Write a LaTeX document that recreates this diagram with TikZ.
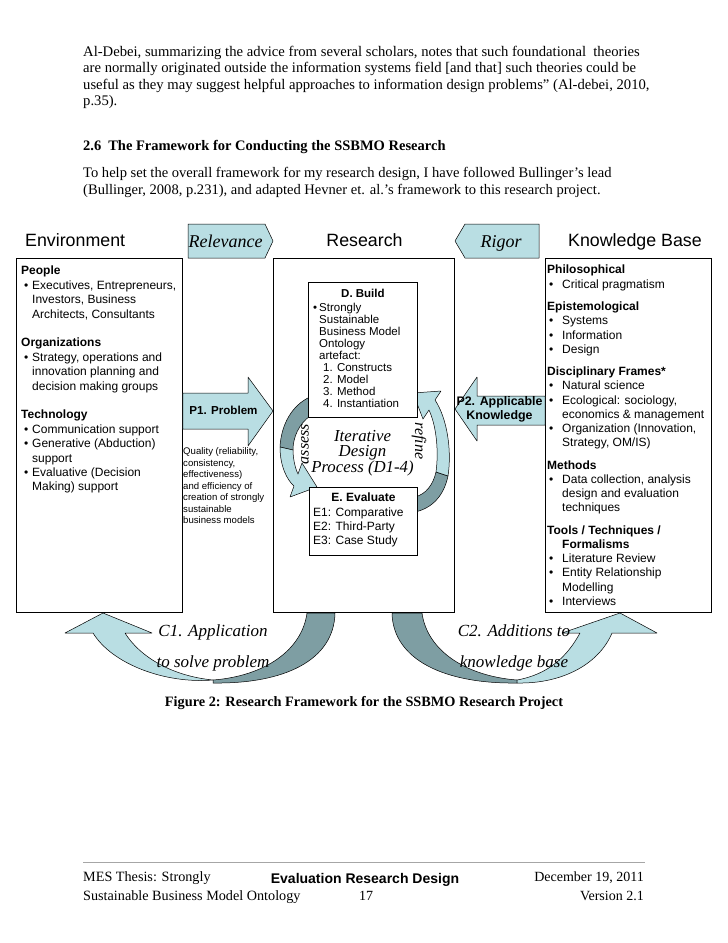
\documentclass[tikz,border=0pt]{standalone}
\usepackage{fontspec}
\setmainfont{Liberation Serif}
\setsansfont{Liberation Sans}
\usetikzlibrary{positioning}
\usetikzlibrary{calc}

\definecolor{arrowblue}{RGB}{185,222,227}
\definecolor{arrowgrey}{RGB}{126,158,163}
\newcommand{\fsz}[2]{\fontsize{#1}{#2}\selectfont}
\newcommand{\ebul}{\hspace*{3pt}\makebox[8pt][l]{\textbullet}}
\newcommand{\eind}{\hspace*{11pt}}
\newcommand{\kbul}{\hspace*{2pt}\makebox[13pt][l]{\textbullet}}
\newcommand{\kbind}{\hspace*{15pt}}
\newcommand{\dbul}{\makebox[6pt][l]{\textbullet}}
\newcommand{\dind}{\hspace*{6pt}}
\newcommand{\dnum}{\hspace*{10pt}}

\begin{document}
\begin{tikzpicture}[x=1pt, y=1pt,
	panel/.style={draw, fill=white, line width=0.9pt, inner sep=0pt, anchor=north west},
	lightarrow/.style={draw, fill=arrowblue, line width=0.5pt, line join=round},
	darkarrow/.style={draw, fill=arrowgrey, line width=0.5pt, line join=round},
	title/.style={font=\sffamily\fsz{17.8}{20}, inner sep=0pt, anchor=base},
	flag/.style={font=\itshape\fsz{18}{20}, inner sep=0pt, anchor=base},
	boxtext/.style={font=\sffamily\fsz{12}{14.4}, align=left, inner sep=0pt, anchor=north west},
	bodytext/.style={align=left, inner sep=0pt, anchor=north west}]

	\useasboundingbox[fill=white] (0,0) rectangle (728,-943);

	% page text above the figure
	\node[bodytext, font=\fsz{14.65}{16.6}] (quote) at (83,-45.5) {Al-Debei, summarizing the advice from several scholars, notes that such foundational\ \ theories\\
		are normally originated outside the information systems field [and that] such theories could be\\
		useful as they may suggest helpful approaches to information design problems” (Al-debei, 2010,\\
		p.35).};
	\node[bodytext, font=\bfseries\fsz{14.5}{16}] (sect) at (83,-140) {2.6\hspace{7pt}The Framework for Conducting the SSBMO Research};
	\node[bodytext, font=\fsz{14.55}{16.8}] (intro) at (83,-167.5) {To help set the overall framework for my research design, I have followed Bullinger’s lead\\
		(Bullinger, 2008, p.231), and adapted Hevner et. al.’s framework to this research project.};

	% curved arrows under the boxes
	\draw[lightarrow] (103,-613) -- (152,-633) -- (125,-633) .. controls (140,-657) and (172,-676) .. (213,-680)
		.. controls (165,-684) and (112,-664) .. (93,-633) -- (65,-633) -- cycle;
	\draw[darkarrow] (213,-683) .. controls (285,-684) and (334,-660) .. (335,-613) -- (307,-613)
		.. controls (302,-650) and (265,-676) .. (213,-680) -- cycle;
	\draw[darkarrow] (392,-613) .. controls (393,-660) and (445,-684) .. (517,-683) -- (517,-680)
		.. controls (465,-676) and (427,-650) .. (422,-613) -- cycle;
	\draw[lightarrow] (517,-683) .. controls (565,-684) and (600,-662) .. (612,-633) -- (657,-633) -- (620,-613)
		-- (562,-633) -- (580,-633) .. controls (568,-655) and (550,-674) .. (517,-680) -- cycle;

	% the three columns
	\node[panel, minimum width=166pt, minimum height=354pt] (env) at (16,-258) {};
	\node[panel, minimum width=181pt, minimum height=354pt] (res) at (273,-258) {};
	\node[panel, minimum width=166pt, minimum height=354pt] (kb) at (545,-258) {};

	\node[title, anchor=base west] (envtitle) at (25,-246.5) {Environment};
	\node[title] (restitle) at (364.5,-246.5) {Research};
	\node[title] (kbtitle) at (635,-246.5) {Knowledge Base};

	% relevance and rigor flags
	\draw[lightarrow] (188,-224) -- (265,-224) -- (273,-241) -- (265,-258) -- (188,-258) -- cycle;
	\draw[lightarrow] (539,-224) -- (465,-224) -- (455,-241) -- (465,-258) -- (539,-258) -- cycle;
	\node[flag] (relev) at (225.5,-247) {Relevance};
	\node[flag] (rigor) at (501,-247) {Rigor};

	% P1 and P2
	\draw[lightarrow] (env.east |- 0,-393) -- (248,-393) -- (248,-377) -- (273,-411) -- (248,-446) -- (248,-429) -- (env.east |- 0,-429) -- cycle;
	\draw[lightarrow] (kb.west |- 0,-396) -- (477,-396) -- (477,-377) -- (455,-409) -- (477,-441) -- (477,-425) -- (kb.west |- 0,-425) -- cycle;

	% iterative cycle
	\draw[darkarrow] (310,-397) .. controls (292,-405) and (281,-425) .. (280,-447) -- (293,-450)
		.. controls (293,-437) and (299,-424) .. (310,-416) -- cycle;
	\draw[lightarrow] (280,-447) .. controls (280,-466) and (287,-480) .. (294,-486) -- (290,-497) -- (317,-487)
		-- (302,-463) -- (298,-474) .. controls (295,-468) and (293,-458) .. (293,-450) -- cycle;
	\draw[darkarrow] (415,-512) .. controls (433,-508) and (444,-495) .. (448,-476) -- (436,-472)
		.. controls (433,-485) and (426,-494) .. (415,-497) -- cycle;
	\draw[lightarrow] (448,-476) .. controls (452,-450) and (447,-418) .. (435,-400) -- (441,-391) -- (413,-393)
		-- (423,-419) -- (429,-410) .. controls (436,-425) and (439,-450) .. (436,-472) -- cycle;

	\node[panel, minimum width=109pt, minimum height=135pt] (build) at (308,-282) {};
	\node[panel, minimum width=108pt, minimum height=68pt] (eval) at (309,-487) {};

	% box texts
	\node[boxtext] (envtext) at ($(env.north west)+(5,-8)$) {{\bfseries People}\\
		\ebul Executives, Entrepreneurs,\\
		\eind Investors, Business\\
		\eind Architects, Consultants\\[14.4pt]
		{\bfseries Organizations}\\
		\ebul Strategy, operations and\\
		\eind innovation planning and\\
		\eind decision making groups\\[14.4pt]
		{\bfseries Technology}\\
		\ebul Communication support\\
		\ebul Generative (Abduction)\\
		\eind support\\
		\ebul Evaluative (Decision\\
		\eind Making) support};

	\node[boxtext, font=\sffamily\fsz{12}{14.2}] (kbtext) at ($(kb.north west)+(2,-7)$) {{\bfseries Philosophical}\\
		\kbul Critical pragmatism\\[8.3pt]
		{\bfseries Epistemological}\\
		\kbul Systems\\
		\kbul Information\\
		\kbul Design\\[8.3pt]
		{\bfseries Disciplinary Frames*}\\
		\kbul Natural science\\
		\kbul Ecological: sociology,\\
		\kbind economics \& management\\
		\kbul Organization (Innovation,\\
		\kbind Strategy, OM/IS)\\[8.3pt]
		{\bfseries Methods}\\
		\kbul Data collection, analysis\\
		\kbind design and evaluation\\
		\kbind techniques\\[8.3pt]
		{\bfseries Tools / Techniques /}\\
		\kbind{\bfseries Formalisms}\\
		\kbul Literature Review\\
		\kbul Entity Relationship\\
		\kbind Modelling\\
		\kbul Interviews};

	\node[font=\sffamily\bfseries\fsz{11.5}{12}, inner sep=0pt] (buildtitle) at ($(build.north)+(0,-11.5)$) {D. Build};
	\node[boxtext, font=\sffamily\fsz{11.5}{12}] (buildtext) at ($(build.north west)+(5,-20.5)$) {\dbul Strongly\\
		\dind Sustainable\\
		\dind Business Model\\
		\dind Ontology\\
		\dind artefact:\\
		\dnum 1. Constructs\\
		\dnum 2. Model\\
		\dnum 3. Method\\
		\dnum 4. Instantiation};

	\node[font=\sffamily\bfseries\fsz{12}{14}, inner sep=0pt] (evaltitle) at ($(eval.north)+(0,-10)$) {E. Evaluate};
	\node[boxtext, font=\sffamily\fsz{12}{14.2}] (evaltext) at ($(eval.north west)+(4,-20.5)$) {E1: Comparative\\
		E2: Third-Party\\
		E3: Case Study};

	\node[font=\itshape\fsz{16.8}{15.5}, align=center, inner sep=0pt] (iter) at (362.5,-453) {Iterative\\Design\\Process (D1-4)};
	\node[font=\itshape\fsz{16}{16}, rotate=90, inner sep=0pt] (assess) at (305,-444) {assess};
	\node[font=\itshape\fsz{16}{16}, rotate=-90, inner sep=0pt] (refine) at (419,-441) {refine};

	\node[font=\sffamily\bfseries\fsz{11.6}{13}, inner sep=0pt] (problem) at (223.5,-410) {P1. Problem};
	\node[font=\sffamily\bfseries\fsz{12.4}{14}, align=center, inner sep=0pt] (applic) at (499.5,-409.5) {P2. Applicable\\Knowledge};
	\node[bodytext, font=\sffamily\fsz{9.6}{11.5}] (quality) at (183,-447.5) {Quality (reliability,\\
		consistency,\\
		effectiveness)\\
		and efficiency of\\
		creation of strongly\\
		sustainable\\
		business models};

	\node[font=\itshape\fsz{17}{31}, align=center, inner sep=0pt] (apply) at (213,-648) {C1. Application\\to solve problem};
	\node[font=\itshape\fsz{17}{31}, align=center, inner sep=0pt] (adds) at (514,-648) {C2. Additions to\\knowledge base};

	\node[font=\bfseries\fsz{14.3}{16}, inner sep=0pt] (caption) at (364,-703.5) {Figure 2: Research Framework for the SSBMO Research Project};

	% footer
	\coordinate (rulel) at (83,-862);
	\coordinate (ruler) at (645,-862);
	\draw[gray!70, line width=0.8pt] (rulel) -- (ruler);
	\node[font=\fsz{14.2}{15}, inner sep=0pt, anchor=base west] (footl1) at (83,-881.5) {MES Thesis: Strongly};
	\node[font=\fsz{14.2}{15}, inner sep=0pt, anchor=base west] (footl2) at (83,-900.5) {Sustainable Business Model Ontology};
	\node[font=\sffamily\bfseries\fsz{14}{15}, inner sep=0pt, anchor=base] (footc1) at (365,-883) {Evaluation Research Design};
	\node[font=\fsz{14}{15}, inner sep=0pt, anchor=base] (footc2) at (366,-900.5) {17};
	\node[font=\fsz{14}{15}, inner sep=0pt, anchor=base east] (footr1) at (644,-881.5) {December 19, 2011};
	\node[font=\fsz{14}{15}, inner sep=0pt, anchor=base east] (footr2) at (644,-900.5) {Version 2.1};
\end{tikzpicture}
\end{document}
